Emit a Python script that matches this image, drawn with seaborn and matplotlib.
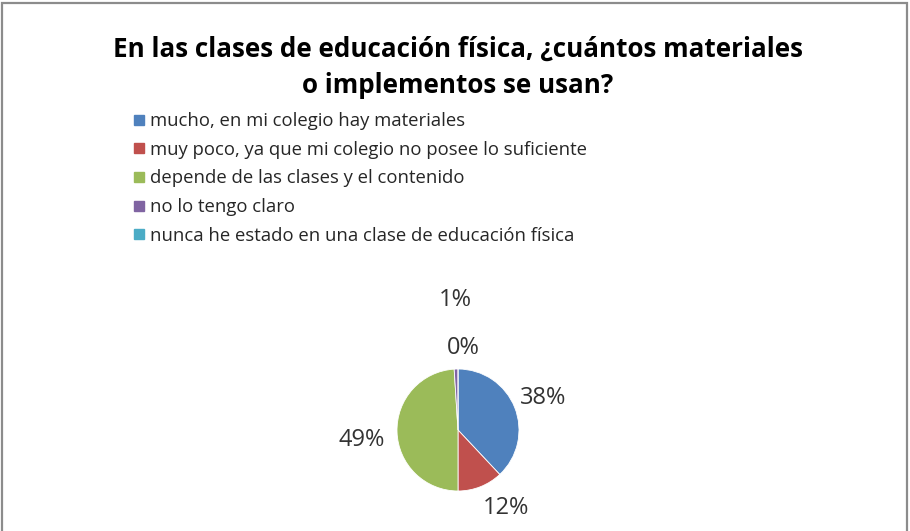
import numpy as np
import matplotlib
matplotlib.use("Agg")
import matplotlib.pyplot as plt
from matplotlib.lines import Line2D
from matplotlib.patches import Rectangle
import seaborn as sns

# data
categories = [
    "mucho, en mi colegio hay materiales",
    "muy poco, ya que mi colegio no posee lo suficiente",
    "depende de las clases y el contenido",
    "no lo tengo claro",
    "nunca he estado en una clase de educación física",
]
percentages = [38, 12, 49, 1, 0]
pct_labels = ["38%", "12%", "49%", "1%", "0%"]
colors = ["#4F81BD", "#C0504D", "#9BBB59", "#8064A2", "#4BACC6"]

sns.set_theme(style="white")
plt.rcParams["font.family"] = ["Open Sans", "DejaVu Sans"]

W, H = 910, 531
fig = plt.figure(figsize=(W / 100, H / 100), dpi=100)
fig.patch.set_facecolor("white")

# outer chart frame
fig.patches.append(Rectangle((2 / W, -0.05), 905 / W, 1.05 - 3 / H, transform=fig.transFigure,
                             fill=False, edgecolor="#8c8c8c", linewidth=1.6))

fig.text(458 / W, 1 - 67 / H, "En las clases de educación física, ¿cuántos materiales\no implementos se usan?",
         ha="center", va="center", fontsize=18.7, fontweight="bold", color="black", linespacing=1.45)

# pie: radius 1 data unit = 61 px
r_px = 61
cx, cy = 458, H - 430
xl, yl = (-2.5, 2.5), (-1.65, 2.5)
ax = fig.add_axes([(cx + xl[0] * r_px) / W, (cy + yl[0] * r_px) / H,
                   (xl[1] - xl[0]) * r_px / W, (yl[1] - yl[0]) * r_px / H])
wedges, _ = ax.pie(percentages, colors=colors, startangle=90, counterclock=False,
                   wedgeprops=dict(linewidth=0.6, edgecolor="white"))
ax.set_xlim(*xl)
ax.set_ylim(*yl)
ax.set_aspect("equal")
ax.axis("off")

# label placement (best-fit style like the original)
dists = [1.49, 1.5, 1.58, 2.13, 1.35]
shifts = [-1, 10, 4, -0.5, -3.5]
for w, lab, d, s in zip(wedges, pct_labels, dists, shifts):
    ang = np.deg2rad((w.theta1 + w.theta2) / 2 + s)
    ax.text(d * np.cos(ang), d * np.sin(ang), lab, ha="center", va="center",
            fontsize=17, color="#333333")

handles = [Line2D([0], [0], marker="s", linestyle="none", markersize=7,
                  markerfacecolor=c, markeredgecolor=c) for c in colors]
fig.legend(handles, categories, loc="upper left", bbox_to_anchor=(133 / W, 1 - 112 / H),
           frameon=False, fontsize=13.3, handlelength=0.6, handletextpad=0.3,
           labelspacing=0.58, borderaxespad=0, borderpad=0)

fig.savefig("out.png", dpi=100)
